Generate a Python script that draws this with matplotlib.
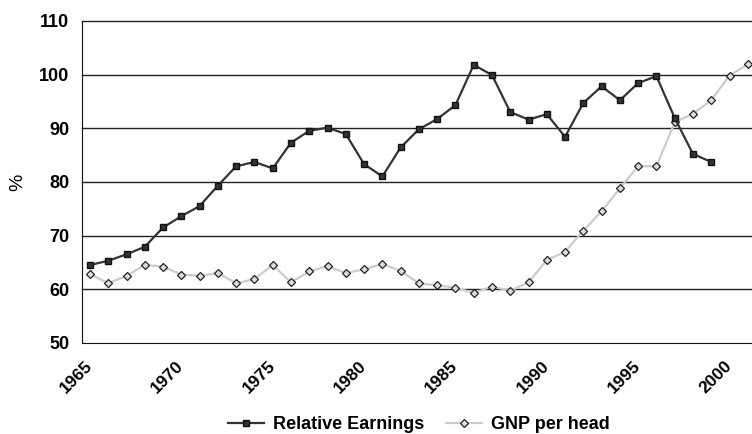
import matplotlib.pyplot as plt

plt.rcParams['font.family'] = ['Liberation Sans', 'DejaVu Sans']

# anos e séries
anos_re = list(range(1965, 2000))
relative_earnings = [64.5, 65.3, 66.5, 67.9, 71.5, 73.6, 75.5, 79.3, 82.9, 83.7,
                     82.5, 87.3, 89.5, 90.1, 88.9, 83.3, 81.0, 86.4, 89.8, 91.7,
                     94.3, 101.8, 99.9, 93.0, 91.6, 92.6, 88.4, 94.7, 97.8, 95.2,
                     98.4, 99.7, 91.9, 85.2, 83.7]

anos_gnp = list(range(1965, 2002))
gnp_per_head = [62.8, 61.1, 62.5, 64.5, 64.2, 62.7, 62.5, 63.0, 61.1, 61.9,
                64.5, 61.3, 63.3, 64.3, 63.0, 63.7, 64.7, 63.4, 61.1, 60.7,
                60.3, 59.3, 60.5, 59.7, 61.3, 65.4, 67.0, 70.9, 74.5, 78.8,
                82.9, 82.9, 91.1, 92.7, 95.2, 99.8, 101.9]

anos_ticks = [1965, 1970, 1975, 1980, 1985, 1990, 1995, 2000]
y_ticks = [50, 60, 70, 80, 90, 100, 110]


def main():
    fig = plt.figure(figsize=(7.52, 4.34), dpi=100)
    ax = fig.add_axes([0.109, 0.21, 0.891, 0.742])

    # linhas de grade horizontais (inclui a de 110 no topo)
    for y in y_ticks[1:]:
        ax.axhline(y, color='#222222', linewidth=1.0, zorder=1, clip_on=False)

    ax.plot(anos_re, relative_earnings, '-', color='#333333', linewidth=1.6,
            marker='s', markersize=4.8, markerfacecolor='#333333',
            markeredgecolor='#111111', label='Relative Earnings', zorder=3)
    ax.plot(anos_gnp, gnp_per_head, '-', color='#cccccc', linewidth=1.6,
            marker='D', markersize=3.6, markerfacecolor='#dddddd',
            markeredgecolor='#222222', markeredgewidth=0.9,
            label='GNP per head', zorder=2)

    ax.set_xlim(1964.56, 2001.23)
    ax.set_ylim(50, 110)
    ax.set_yticks(y_ticks)
    ax.set_xticks(anos_ticks)
    ax.set_xticklabels([str(a) for a in anos_ticks], rotation=45, ha='right',
                       va='center', rotation_mode='anchor',
                       fontsize=12.5, fontweight='bold')
    ax.set_yticklabels([str(v) for v in y_ticks], fontsize=13, fontweight='bold')
    ax.tick_params(axis='y', length=0, pad=9)
    ax.tick_params(axis='x', length=0, pad=15)

    for s in ['top', 'right']:
        ax.spines[s].set_visible(False)
    ax.spines['left'].set_color('#111111')
    ax.spines['bottom'].set_color('#111111')

    fig.text(0.023, 0.581, '%', rotation=90, fontsize=14,
             ha='center', va='center')

    fig.legend(loc='lower center', bbox_to_anchor=(0.557, -0.035), ncol=2,
               frameon=False, prop={'weight': 'bold', 'size': 13},
               handlelength=2.0, handletextpad=0.5, columnspacing=1.2)

    fig.savefig('out.png', dpi=100)


if __name__ == '__main__':
    main()
